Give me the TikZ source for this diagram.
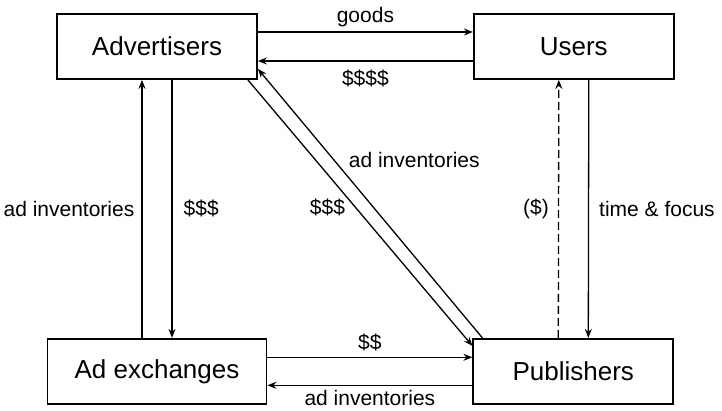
\documentclass[tikz,border=0pt]{standalone}
\usepackage{fontspec}
\setmainfont{Liberation Sans}
\usepackage{tikz}
\usetikzlibrary{arrows.meta,positioning}
\tikzstyle{party} = [draw,line width=1.8pt,minimum width=200pt,minimum height=65pt,inner sep=0pt,font=\fontsize{26}{30}\selectfont]
\tikzstyle{flow} = [line width=1.3pt,-{Stealth[length=9pt,width=7pt,inset=3pt]}]
\tikzstyle{tag} = [inner sep=3pt,font=\fontsize{21}{25}\selectfont]

\begin{document}
\begin{tikzpicture}[x=1pt,y=1pt]
\useasboundingbox (0,0) rectangle (722,411);
\node[party] (adv) at (157,364.5) {Advertisers};
\node[party,right=215pt of adv] (usr) {Users};
\node[party,minimum width=219pt,below=258pt of adv] (adx) {Ad exchanges};
\node[party,right=205pt of adx] (pub) {Publishers};

\draw[flow] ([yshift=14.5pt]adv.east) -- node[tag,above=1pt] {goods} ([yshift=14.5pt]usr.west);
\draw[flow] ([yshift=-14.5pt]usr.west) -- node[tag,below=5pt] {\$\$\$\$} ([yshift=-14.5pt]adv.east);
\draw[flow] ([xshift=-15pt]adx.north) -- node[tag,left=4pt] {ad inventories} ([xshift=-15pt]adv.south);
\draw[flow] ([xshift=15pt]adv.south) -- node[tag,right=8pt] {\$\$\$} ([xshift=15pt]adx.north);
\draw[flow] ([xshift=-10pt]adv.south east) -- node[tag,pos=0.48,anchor=east,xshift=-7pt] {\$\$\$} ([yshift=-8pt]pub.north west);
\draw[flow] ([xshift=10pt]pub.north west) -- node[tag,pos=0.66,anchor=west,xshift=11pt] {ad inventories} ([yshift=11pt]adv.south east);
\draw[flow,dash pattern=on 8pt off 4pt] ([xshift=-15pt]pub.north) -- node[tag,left=6pt] {(\$)} ([xshift=-15pt]usr.south);
\draw[flow] ([xshift=15pt]usr.south) -- node[tag,right=7pt] {time \& focus} ([xshift=15pt]pub.north);
\draw[flow] ([yshift=14pt]adx.east) -- node[tag,above=3pt] {\$\$} ([yshift=14pt]pub.west);
\draw[flow] ([yshift=-14pt]pub.west) -- node[tag,below=1pt] {ad inventories} ([yshift=-14pt]adx.east);
\end{tikzpicture}
\end{document}
